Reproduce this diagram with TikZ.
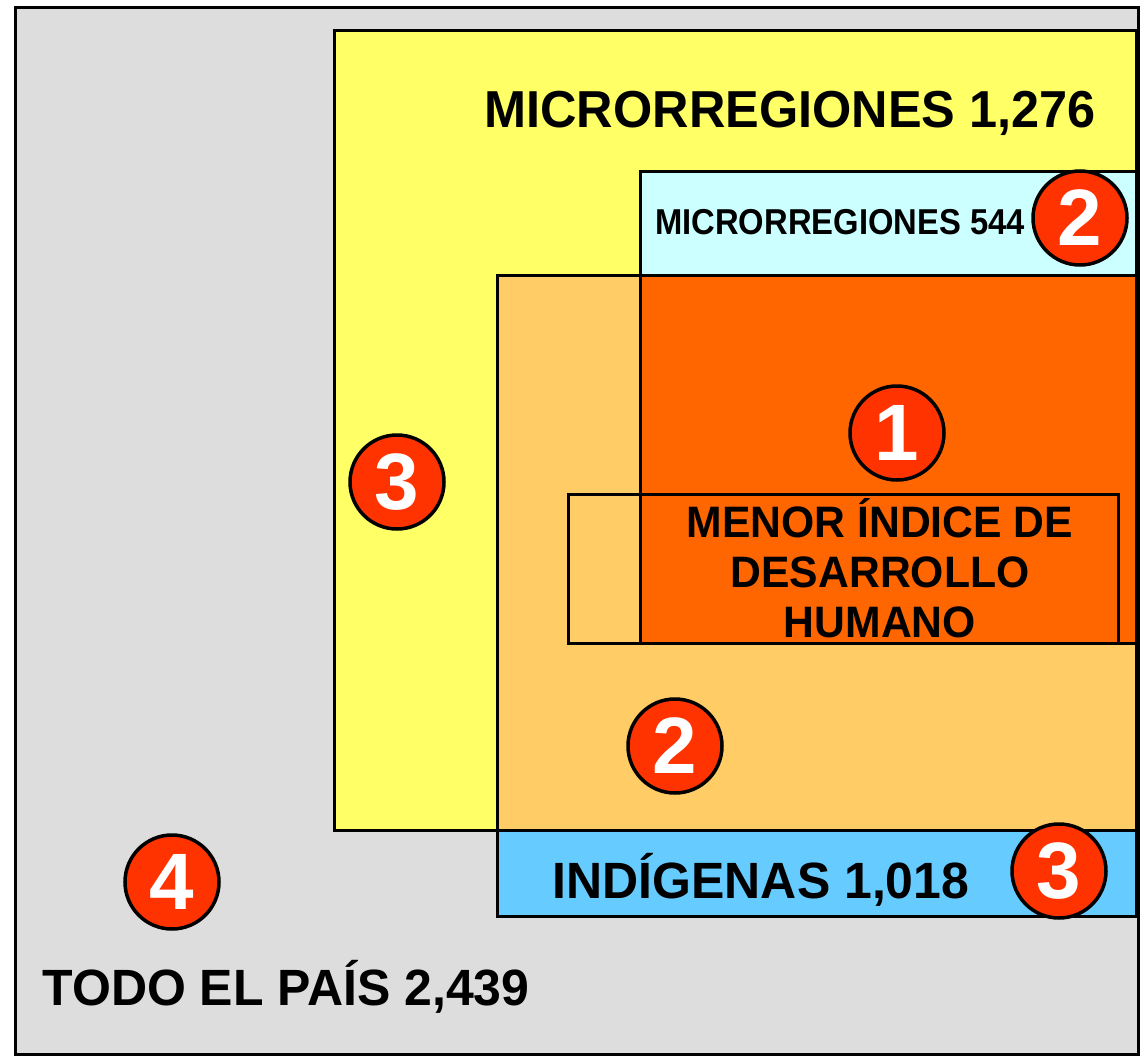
\documentclass[tikz,border=0pt]{standalone}
\usepackage{fontspec}
\setmainfont{Liberation Sans}
\definecolor{cgray}{HTML}{DDDDDD}
\definecolor{cyellow}{HTML}{FFFF66}
\definecolor{ccyan}{HTML}{CCFFFF}
\definecolor{clorange}{HTML}{FFCC66}
\definecolor{cdorange}{HTML}{FF6600}
\definecolor{cblue}{HTML}{66CCFF}
\definecolor{cred}{HTML}{FF3300}
\begin{document}
\begin{tikzpicture}[x=1pt,y=-1pt,
  box/.style={draw=black,line width=3pt},
  badge/.style={circle,draw=black,line width=3.5pt,fill=cred,text=white,minimum size=94pt,inner sep=0pt,
    font=\fontsize{80}{80}\selectfont\bfseries},
  lbl/.style={inner sep=0pt,anchor=base,text=black}]
\useasboundingbox (0,0) rectangle (1144,1057);
\fill[white] (0,0) rectangle (1144,1057);
% regions
\filldraw[box,fill=cgray] (15,8) rectangle (1138,1054);
\filldraw[box,fill=cyellow] (334,31) rectangle (1136,830);
\filldraw[box,fill=ccyan] (640,171) rectangle (1136,275);
\filldraw[box,fill=clorange] (497,275) rectangle (1136,830);
\filldraw[box,fill=cdorange] (640,275) rectangle (1136,643);
\draw[box] (568,494) rectangle (1118,643);
\filldraw[box,fill=cblue] (497,830) rectangle (1136,916);
% labels
\node[lbl,font=\fontsize{52}{52}\selectfont\bfseries] (tmicro) at (790,128) {\scalebox{0.97}[1]{MICRORREGIONES 1,276}};
\node[lbl,font=\fontsize{36}{36}\selectfont\bfseries] (tmicro544) at (840,234) {\scalebox{0.91}[1]{MICRORREGIONES 544}};
\node[lbl,font=\fontsize{44}{44}\selectfont\bfseries] (tidh1) at (880,537) {\scalebox{0.97}[1]{MENOR ÍNDICE DE}};
\node[lbl,font=\fontsize{44}{44}\selectfont\bfseries] (tidh2) at (880,587) {\scalebox{0.97}[1]{DESARROLLO}};
\node[lbl,font=\fontsize{44}{44}\selectfont\bfseries] (tidh3) at (880,637) {\scalebox{0.97}[1]{HUMANO}};
\node[lbl,font=\fontsize{51}{51}\selectfont\bfseries] (tind) at (761,898) {\scalebox{0.98}[1]{INDÍGENAS 1,018}};
\node[lbl,font=\fontsize{51}{51}\selectfont\bfseries] (tpais) at (286,1005) {\scalebox{0.98}[1]{TODO EL PAÍS 2,439}};
% badges
\node[badge] (b1) at (897,433) {1};
\node[badge] (b2a) at (1080,218) {2};
\node[badge] (b3a) at (397,482) {3};
\node[badge] (b2b) at (675,746) {2};
\node[badge] (b3b) at (1059,871) {3};
\node[badge] (b4) at (172,882) {4};
\end{tikzpicture}
\end{document}
